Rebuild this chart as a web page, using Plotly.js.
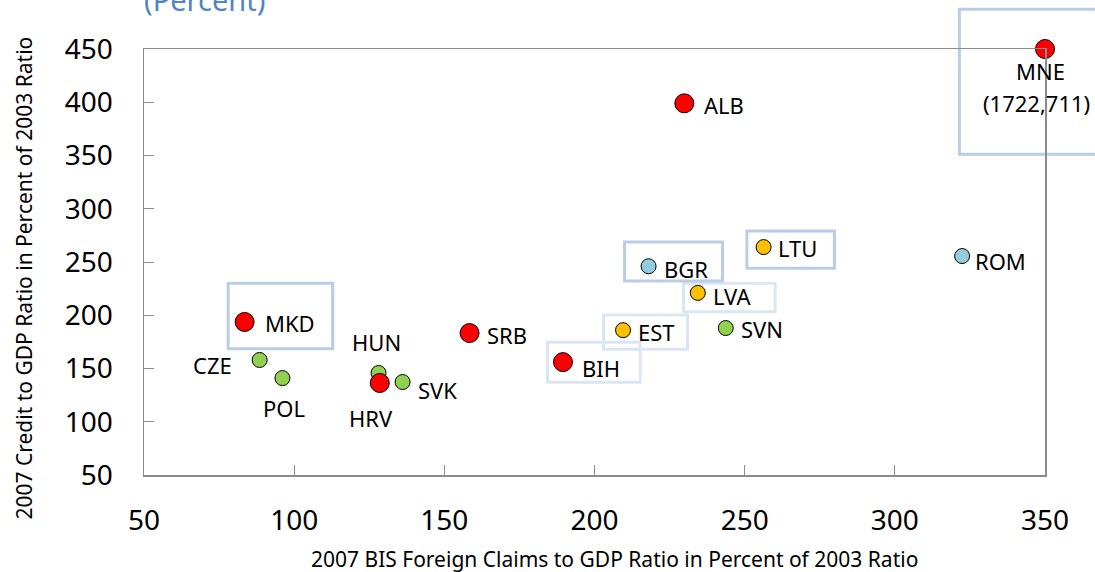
<!DOCTYPE html>
<html><head><meta charset="utf-8">
<script src="https://cdn.plot.ly/plotly-3.0.1.min.js"></script>
<style>html,body{margin:0;padding:0;background:#fff;}#chart{width:1095px;height:572px;}</style>
</head><body><div id="chart"></div>
<script>
// ---- data ----
var redNames  = ["MKD","HRV","SRB","BIH","ALB","MNE"];
var redX      = [83.5, 128.5, 158.4, 189.5, 229.9, 350];
var redY      = [193.7, 136.4, 183.3, 156, 399, 450];

var greenNames = ["CZE","POL","HUN","SVK","SVN"];
var greenX     = [88.5, 96.1, 128.1, 136.1, 243.7];
var greenY     = [158, 141, 145.8, 137.3, 188];

var orangeNames = ["EST","LVA","LTU"];
var orangeX     = [209.5, 234.4, 256.3];
var orangeY     = [186, 221, 264];

var blueNames = ["BGR","ROM"];
var blueX     = [218, 322.4];
var blueY     = [246, 255.6];

var tickVals = [50,100,150,200,250,300,350,400,450];

// ---- layout constants ----
var L=143.5, R=1045, T=49, B=475, W=1095, H=572;
function px(x){return (x-L)/(R-L);}
function py(y){return (B-y)/(B-T);}

var F = "Noto Sans, sans-serif";

function trace(xs, ys, names, color, size){
  return {type:"scatter", mode:"markers", x:xs, y:ys, text:names, cliponaxis:false,
    hoverinfo:"text",
    marker:{color:color, size:size, line:{color:"#000", width:1}}, showlegend:false};
}

var data = [
  trace(greenX, greenY, greenNames, "#92D050", 15),
  trace(orangeX, orangeY, orangeNames, "#FFC000", 15),
  trace(blueX, blueY, blueNames, "#93CDDD", 15),
  trace(redX, redY, redNames, "#FF0000", 19)
];

// label placement (style: offsets in px)
var labelPos = {
  MKD:{dx:18,dy:-1,a:"left"}, CZE:{dx:-26,dy:-5,a:"right"}, POL:{dx:2,dy:-30,a:"center"},
  HUN:{dx:-2,dy:31,a:"center"}, HRV:{dx:-9,dy:-35,a:"center"}, SVK:{dx:13,dy:-8,a:"left"},
  SRB:{dx:15,dy:-2,a:"left"}, BIH:{dx:17,dy:-6,a:"left"}, EST:{dx:13,dy:-2,a:"left"},
  BGR:{dx:13,dy:-3,a:"left"}, LVA:{dx:13,dy:-3,a:"left"}, SVN:{dx:13,dy:-1,a:"left"},
  LTU:{dx:12,dy:-1,a:"left"}, ALB:{dx:18,dy:-2,a:"left"}, ROM:{dx:11,dy:-5,a:"left"},
  MNE:{dx:-5,dy:-22,a:"center"}
};
var LF = 22;
var annotations = [];
function addLabels(names, xs, ys){
  names.forEach(function(n,i){
    var p = labelPos[n];
    annotations.push({x:xs[i], y:ys[i], xref:"x", yref:"y", text:n, showarrow:false,
      xanchor:p.a, yanchor:"middle", xshift:p.dx, yshift:p.dy,
      font:{family:F, size:LF, color:"#000"}});
  });
}
addLabels(redNames, redX, redY);
addLabels(greenNames, greenX, greenY);
addLabels(orangeNames, orangeX, orangeY);
addLabels(blueNames, blueX, blueY);
annotations.push({x:redX[5], y:redY[5], xref:"x", yref:"y", text:"(1722,711)", showarrow:false,
  xanchor:"center", yanchor:"middle", xshift:-9, yshift:-54, font:{family:F, size:LF, color:"#000"}});

annotations.push({xref:"paper", yref:"paper", x:px(141), y:py(-1), xanchor:"left", yanchor:"middle",
  text:"(Percent)", showarrow:false, font:{family:F, size:29, color:"#4F86C0"}});
annotations.push({xref:"paper", yref:"paper", x:px(23), y:py(278), xanchor:"center", yanchor:"middle",
  text:"2007 Credit to GDP Ratio in Percent of 2003 Ratio", textangle:-90, showarrow:false,
  font:{family:F, size:21, color:"#000"}});
annotations.push({xref:"paper", yref:"paper", x:px(614), y:py(559), xanchor:"center", yanchor:"middle",
  text:"2007 BIS Foreign Claims to GDP Ratio in Percent of 2003 Ratio", showarrow:false,
  font:{family:F, size:21, color:"#000"}});

// highlight boxes (pixel geometry)
var boxStrong = "#B9CDE5", boxLight = "#DCE6F2";
var boxes = [
  [227.7,283.3,332.3,348.7,boxStrong],
  [547.3,342.3,640,382.3,boxLight],
  [603.3,315,687.3,349.3,boxLight],
  [683.3,283.3,775,311.7,boxLight],
  [624.3,242,722.3,281,boxStrong],
  [746.7,231,834.3,268.3,boxStrong],
  [959.3,9.3,1100,154.3,boxStrong]
];
var shapes = boxes.map(function(b){
  return {type:"rect", xref:"paper", yref:"paper", layer:"below",
    x0:px(b[0]), x1:px(b[2]), y0:py(b[3]), y1:py(b[1]),
    line:{color:b[4], width:3}};
});

var axisCommon = {showgrid:false, zeroline:false, showline:true, mirror:true,
  linecolor:"#8C8C8C", linewidth:1.5, ticks:"inside", ticklen:10, tickcolor:"#8C8C8C", tickwidth:1,
  tickfont:{family:F, size:28, color:"#000"}};

var layout = {
  width:W, height:H, paper_bgcolor:"#fff", plot_bgcolor:"#fff",
  margin:{l:L, r:W-R, t:T, b:H-B},
  xaxis:Object.assign({}, axisCommon, {range:[50,350], tickvals:tickVals.slice(0,7), ticklabelstandoff:20}),
  yaxis:Object.assign({}, axisCommon, {range:[50,450], tickvals:tickVals, ticklabelstandoff:24}),
  annotations:annotations, shapes:shapes
};

Plotly.newPlot("chart", data, layout, {displayModeBar:false, staticPlot:true});
</script></body></html>
